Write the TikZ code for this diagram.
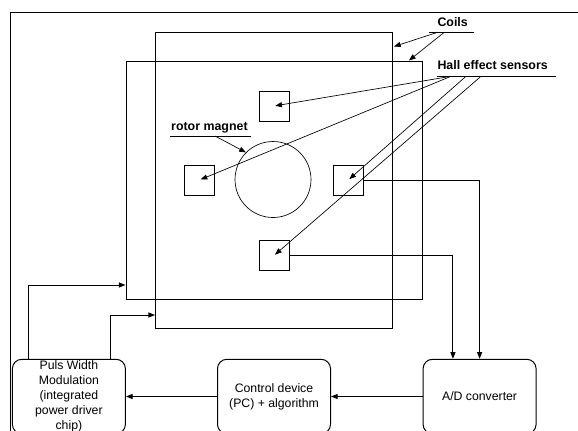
\documentclass[tikz,border=0pt]{standalone}
\usepackage{fontspec}
\setmainfont{Liberation Sans}
\usetikzlibrary{arrows.meta}
\begin{document}
\begin{tikzpicture}[x = 0.75pt, y = -0.75pt, line width = 0.75pt,
		arr/.style = {-{Triangle[length = 5pt, width = 3.8pt]}},
		thinarr/.style = {arr, line width = 0.5pt},
		sensor/.style = {draw, minimum size = 22.5pt, inner sep = 0pt},
		coil/.style = {draw, inner sep = 0pt},
		block/.style = {draw, rounded corners = 7pt, minimum width = 84.75pt, minimum height = 55.8pt, align = center, inner sep = 0pt, font = \fontsize{9.2pt}{11.25pt}\selectfont},
		lbl/.style = {anchor = base west, inner sep = 0pt, font = \bfseries\fontsize{9.3pt}{11pt}\selectfont}]
	\useasboundingbox (0, 0) rectangle (578, 430);
	\clip (0, 0) rectangle (578, 430);
	\draw (10, 440) -- (10, 12.5) -- (590, 12.5);
	% coils, rotor and sensors
	\node[coil, minimum width = 177.4pt, minimum height = 222.2pt] (coilA) at (273.8, 180.6) {};
	\node[coil, minimum width = 222.3pt, minimum height = 178.5pt] (coilB) at (274.2, 180.3) {};
	\node[draw, circle, minimum size = 57pt, inner sep = 0pt, line width = 0.5pt] (magnet) at (273, 179.5) {};
	\node[sensor] (s1) at (274, 106) {};
	\node[sensor] (s2) at (199.4, 180) {};
	\node[sensor] (s3) at (348.3, 180) {};
	\node[sensor] (s4) at (274, 255.5) {};
	% labels
	\node[lbl] (coils) at (437, 26.3) {Coils};
	\node[lbl] (hall) at (437, 69) {Hall effect sensors};
	\node[lbl] (rotor) at (170.7, 130) {rotor magnet};
	\draw[line width = 0.5pt] (429, 32.5) -- (474, 32.5);
	\draw[line width = 0.5pt] (437, 76.3) -- (556, 76.3);
	\draw[line width = 0.5pt] (170, 136) -- (251, 136);
	\coordinate (c1) at (437, 32.5);
	\coordinate (c2) at (444, 32.5);
	\coordinate (h1) at (451, 76.3);
	\coordinate (h2) at (466, 76.3);
	\coordinate (h3) at (481, 76.3);
	\coordinate (r1) at (215, 136);
	\coordinate (tA) at (394, 46.5);
	\coordinate (tB) at (409, 60.5);
	\draw[thinarr] (c1) -- (tA);
	\draw[thinarr] (c2) -- (tB);
	\draw[thinarr] (r1) -- (magnet.north west);
	\draw[thinarr, shorten > = 1pt] (h1) -- (s1.center);
	\draw[thinarr, shorten > = 1pt] (h1) -- (s2.center);
	\draw[thinarr, shorten > = 1pt] (h2) -- (s3.center);
	\draw[thinarr, shorten > = 1pt] (h3) -- (s4.center);
	% control loop
	\node[block] (pwm) at (68.9, 396.5) {Puls Width\\Modulation\\(integrated\\power driver\\chip)};
	\node[block] (ctrl) at (274, 396.5) {Control device\\(PC) + algorithm};
	\node[block] (ad) at (479.6, 396.5) {A/D converter};
	\draw[arr] (s3.east) -| (ad.north);
	\draw[arr] (s4.east) -| ([xshift = -20pt]ad.north);
	\draw[arr] (ad.west) -- (ctrl.east);
	\draw[arr] (ctrl.west) -- (pwm.east);
	\coordinate (pB) at (28.4, 285);
	\coordinate (pA) at (110.3, 315);
	\draw[arr] (pwm.north -| pB) |- (coilB.west |- pB);
	\draw[arr] (pwm.north -| pA) |- (coilA.west |- pA);
\end{tikzpicture}
\end{document}
